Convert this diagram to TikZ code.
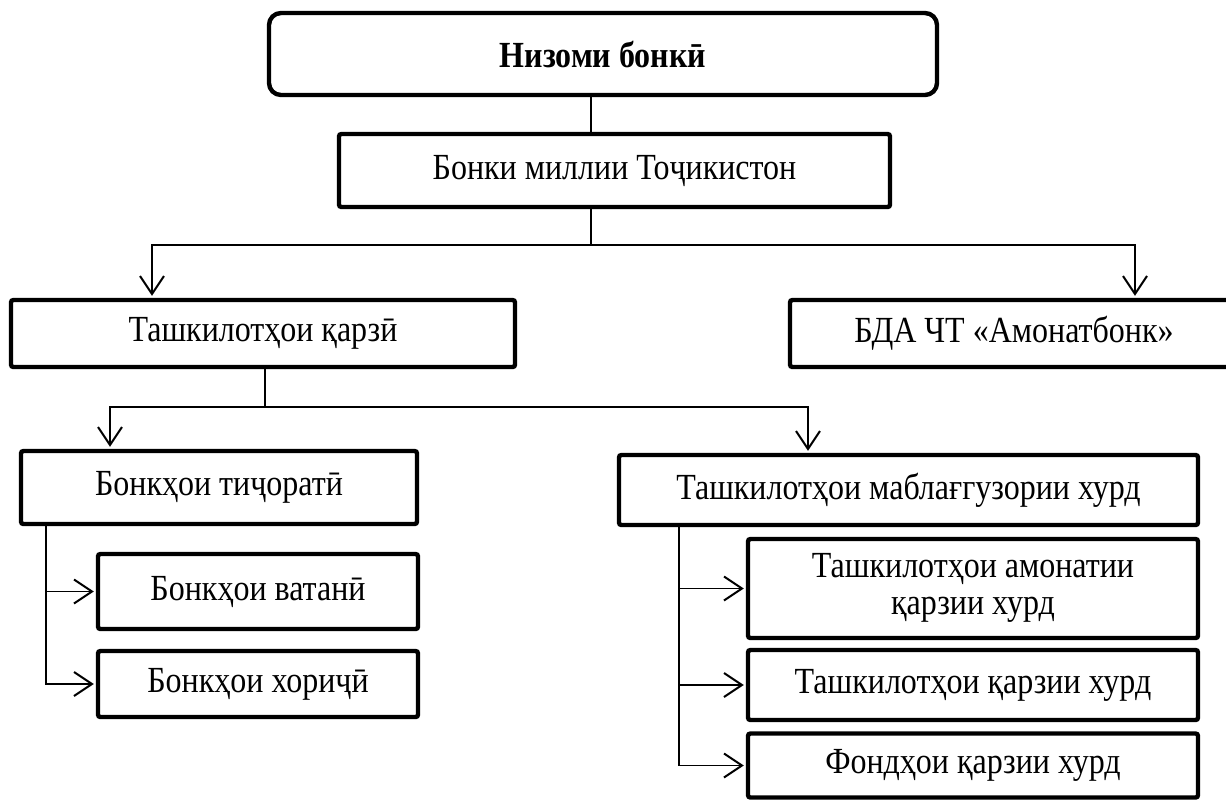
\documentclass[tikz,border=0pt]{standalone}
\usepackage{fontspec}
\setmainfont{Liberation Serif}
\usetikzlibrary{arrows.meta}
\newcommand{\vtxt}[1]{\scalebox{1}[1.15]{#1}}
\begin{document}
\begin{tikzpicture}[x=0.5pt,y=-0.5pt,
  box/.style={draw, line width=2.2pt, rounded corners=1.2pt, inner sep=0pt, align=center, font=\fontsize{16}{16.1}\selectfont},
  conn/.style={line width=0.85pt},
  arr/.style={conn, shorten >=1pt, -{Straight Barb[length=9pt,width=12pt,line width=1pt]}}]
\useasboundingbox (0,0) rectangle (1226,800);
% boxes
\node[box, rounded corners=6pt, minimum width=334pt, minimum height=41pt, font=\fontsize{16}{16.1}\selectfont\bfseries] (top) at (603,54) {\vtxt{Низоми бонкӣ}};
\node[box, minimum width=275.5pt, minimum height=36.5pt] (nb) at (614.5,170.5) {\vtxt{Бонки миллии Тоҷикистон}};
\node[box, minimum width=252pt, minimum height=33.5pt] (tq) at (263,333.5) {\vtxt{Ташкилотҳои қарзӣ}};
\node[box, minimum width=224pt, minimum height=33.5pt] (ab) at (1014,333.5) {\vtxt{БДА ЧТ «Амонатбонк»}};
\node[box, minimum width=198pt, minimum height=36.5pt] (bt) at (219,487.5) {\vtxt{Бонкҳои тиҷоратӣ}};
\node[box, minimum width=289.5pt, minimum height=35pt] (tm) at (908.5,490) {\vtxt{Ташкилотҳои маблағгузории хурд}};
\node[box, minimum width=160pt, minimum height=37.5pt] (bv) at (258,591.5) {\vtxt{Бонкҳои ватанӣ}};
\node[box, minimum width=160pt, minimum height=33pt] (bx) at (258,684) {\vtxt{Бонкҳои хориҷӣ}};
\node[box, minimum width=225pt, minimum height=49.5pt] (ta) at (973,588.5) {\vtxt{\begin{tabular}{@{}c@{}}Ташкилотҳои амонатии\\қарзии хурд\end{tabular}}};
\node[box, minimum width=225pt, minimum height=35pt] (tk) at (973,685) {\vtxt{Ташкилотҳои қарзии хурд}};
\node[box, minimum width=225pt, minimum height=32pt] (fq) at (973,765.5) {\vtxt{Фондҳои қарзии хурд}};
% helper coordinates
\coordinate (v1) at (591,0);
\coordinate (j1) at (591,245);
\coordinate (a3) at (152,0);
\coordinate (a4) at (1135,0);
\coordinate (j2) at (265,407);
\coordinate (a5) at (110,0);
\coordinate (a6) at (808,0);
\coordinate (b5) at (46,0);
\coordinate (b6) at (679,0);
% connectors
\draw[conn] (top.south -| v1) -- (nb.north -| v1);
\draw[conn] (nb.south -| j1) -- (j1);
\draw[arr] (j1) -| (tq.north -| a3);
\draw[arr] (j1) -| (ab.north -| a4);
\draw[conn] (tq.south -| j2) -- (j2);
\draw[arr] (j2) -| (bt.north -| a5);
\draw[arr] (j2) -| (tm.north -| a6);
\draw[arr] (bt.south -| b5) |- (bv.west);
\draw[arr] (bt.south -| b5) |- (bx.west);
\draw[arr] (tm.south -| b6) |- (ta.west);
\draw[arr] (tm.south -| b6) |- (tk.west);
\draw[arr] (tm.south -| b6) |- (fq.west);
\end{tikzpicture}
\end{document}
